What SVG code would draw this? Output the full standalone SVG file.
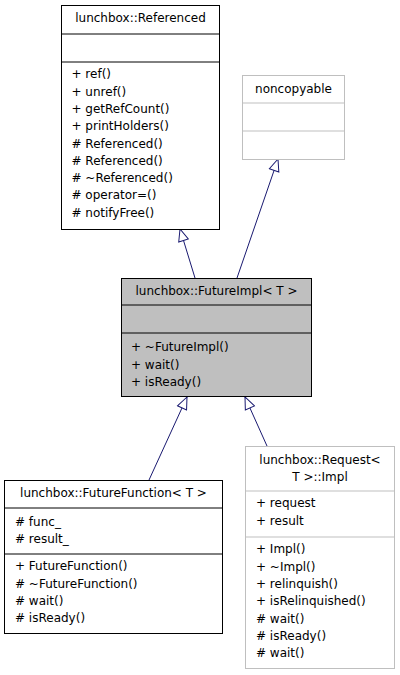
<svg xmlns="http://www.w3.org/2000/svg" width="400" height="675" viewBox="0 0 400 675">
<style>
text{font-family:"DejaVu Sans","Liberation Sans",sans-serif;font-size:12px;fill:#000}
.t{text-anchor:middle}
.b{fill:#fff;stroke:#000;stroke-width:1}
.g{fill:#fff;stroke:#bfbfbf;stroke-width:1}
.m{fill:#bfbfbf;stroke:#000;stroke-width:1}
.e{fill:none;stroke:#191970;stroke-width:1}
</style>
<defs>
<marker id="tri" viewBox="0 0 14 12" refX="13" refY="6" markerWidth="14" markerHeight="12" markerUnits="userSpaceOnUse" orient="auto">
<path d="M13,6 L1,1 L1,11 Z" fill="#fff" stroke="#191970" stroke-width="1"/>
</marker>
</defs>
<g id="connectors">
<path class="e" d="M195,278 L180,229" marker-end="url(#tri)"/>
<path class="e" d="M237,278 L278,159" marker-end="url(#tri)"/>
<path class="e" d="M149,480 L187,397" marker-end="url(#tri)"/>
<path class="e" d="M267,446 L245,397" marker-end="url(#tri)"/>
</g>
<g id="referenced">
<rect class="b" x="61.5" y="5.5" width="158" height="224"/>
<line class="b" x1="61.5" y1="34" x2="219.5" y2="34"/>
<line class="b" x1="61.5" y1="62" x2="219.5" y2="62"/>
<text class="t" x="140.5" y="22">lunchbox::Referenced</text>
<text x="71.5" y="78.3">+ ref()</text>
<text x="71.5" y="95.6">+ unref()</text>
<text x="71.5" y="112.9">+ getRefCount()</text>
<text x="71.5" y="130.2">+ printHolders()</text>
<text x="71.5" y="147.5"># Referenced()</text>
<text x="71.5" y="164.8"># Referenced()</text>
<text x="71.5" y="182.1"># ~Referenced()</text>
<text x="71.5" y="199.4"># operator=()</text>
<text x="71.5" y="216.7"># notifyFree()</text>
</g>
<g id="noncopyable">
<rect class="g" x="242.5" y="75.5" width="102" height="84"/>
<line class="g" x1="242.5" y1="103" x2="344.5" y2="103"/>
<line class="g" x1="242.5" y1="131" x2="344.5" y2="131"/>
<text class="t" x="293.5" y="93">noncopyable</text>
</g>
<g id="futureimpl">
<rect class="m" x="121.5" y="278.5" width="190" height="118"/>
<line class="b" x1="121.5" y1="305" x2="311.5" y2="305"/>
<line class="b" x1="121.5" y1="333" x2="311.5" y2="333"/>
<text class="t" x="216.5" y="295">lunchbox::FutureImpl&lt; T &gt;</text>
<text x="131" y="351.3">+ ~FutureImpl()</text>
<text x="131" y="368.6">+ wait()</text>
<text x="131" y="385.9">+ isReady()</text>
</g>
<g id="futurefunction">
<rect class="b" x="4.5" y="480.5" width="218" height="153"/>
<line class="b" x1="4.5" y1="508" x2="222.5" y2="508"/>
<line class="b" x1="4.5" y1="554" x2="222.5" y2="554"/>
<text class="t" x="113.5" y="497.3">lunchbox::FutureFunction&lt; T &gt;</text>
<text x="15" y="525.8"># func_</text>
<text x="15" y="543.1"># result_</text>
<text x="15" y="570.3">+ FutureFunction()</text>
<text x="15" y="587.6"># ~FutureFunction()</text>
<text x="15" y="604.9"># wait()</text>
<text x="15" y="622.2"># isReady()</text>
</g>
<g id="requestimpl">
<rect class="g" x="245.5" y="446.5" width="149" height="222"/>
<line class="g" x1="245.5" y1="491" x2="394.5" y2="491"/>
<line class="g" x1="245.5" y1="537" x2="394.5" y2="537"/>
<text class="t" x="320" y="463.5">lunchbox::Request&lt;</text>
<text class="t" x="320" y="480.8">T &gt;::Impl</text>
<text x="256" y="507.3">+ request</text>
<text x="256" y="524.6">+ result</text>
<text x="256" y="553.3">+ Impl()</text>
<text x="256" y="570.6">+ ~Impl()</text>
<text x="256" y="587.9">+ relinquish()</text>
<text x="256" y="605.2">+ isRelinquished()</text>
<text x="256" y="622.5"># wait()</text>
<text x="256" y="639.8"># isReady()</text>
<text x="256" y="657.1"># wait()</text>
</g>
</svg>
